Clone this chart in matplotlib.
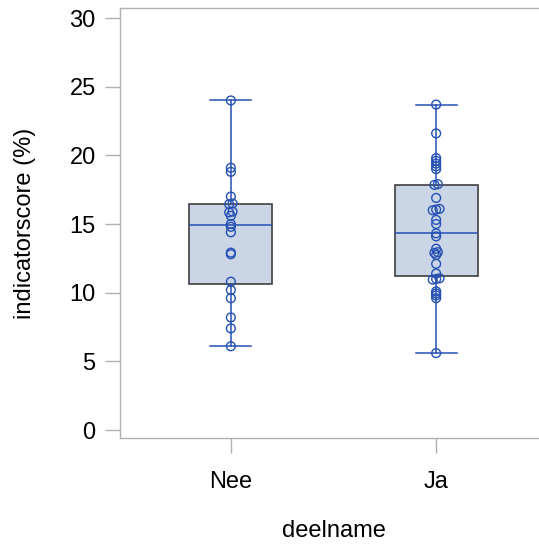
import numpy as np
import matplotlib.pyplot as plt

plt.rcParams['font.family'] = ['Liberation Sans', 'DejaVu Sans']

groups = ['Nee', 'Ja']
nee = [24.0, 19.1, 18.8, 17.0, 16.5, 16.45, 15.9, 15.85, 15.6, 15.0, 14.8, 14.4,
       12.92, 12.8, 10.8, 10.2, 9.6, 8.2, 7.4, 6.1]
ja = [23.7, 21.6, 19.8, 19.6, 19.4, 19.2, 19.0, 17.9, 17.85, 16.9, 16.1, 16.05,
      16.0, 15.3, 15.0, 14.32, 14.1, 13.2, 12.95, 12.9, 12.75, 12.1, 11.4, 11.05,
      11.0, 10.95, 10.1, 9.95, 9.8, 9.6, 5.6]
values = [nee, ja]

blue = '#2450b4'
fig = plt.figure(figsize=(5.39, 5.44), dpi=100)
ax = fig.add_axes([120 / 539, 106 / 544, 427 / 539, 430 / 544])

ax.boxplot(values, positions=[1, 2], widths=0.405, patch_artist=True,
           showfliers=False, whis=1.5,
           boxprops=dict(facecolor='#cad5e5', edgecolor='#404040', linewidth=1.2),
           medianprops=dict(color=blue, linewidth=1.1),
           whiskerprops=dict(color=blue, linewidth=1.1),
           capprops=dict(color=blue, linewidth=1.1), capwidths=0.2)

ax.set_xlim(0.46, 2.54)
ax.set_ylim(-0.58, 30.73)

# nearly equal values are spread side by side, symmetric around the centre
fig.canvas.draw()
trans = ax.transData
step = 3.4
for pos, vals in zip([1, 2], values):
    vs = sorted(vals)
    groups_px = [[vs[0]]]
    for v in vs[1:]:
        dy = trans.transform((pos, v))[1] - trans.transform((pos, groups_px[-1][-1]))[1]
        if dy < 1.5:
            groups_px[-1].append(v)
        else:
            groups_px.append([v])
    xs, ys = [], []
    for g in groups_px:
        n = len(g)
        for i, v in enumerate(g):
            px, py = trans.transform((pos, v))
            x = trans.inverted().transform((px + (i - (n - 1) / 2) * step, py))[0]
            xs.append(x)
            ys.append(v)
    ax.scatter(xs, ys, s=40, facecolors='none', edgecolors=blue, linewidths=1.0, zorder=3)

ax.set_xticks([1, 2])
ax.set_xticklabels(groups)
ax.set_yticks(range(0, 31, 5))
ax.tick_params(axis='both', labelsize=17, length=10.5, color='#b0b0b0', width=1.0, pad=7)
ax.tick_params(axis='x', pad=13)
for s in ax.spines.values():
    s.set_color('#b0b0b0')
    s.set_linewidth(1.0)
ax.set_xlabel('deelname', fontsize=17, labelpad=20)
ax.set_ylabel('indicatorscore (%)', fontsize=17, labelpad=24)

fig.savefig('out.png', dpi=100)
